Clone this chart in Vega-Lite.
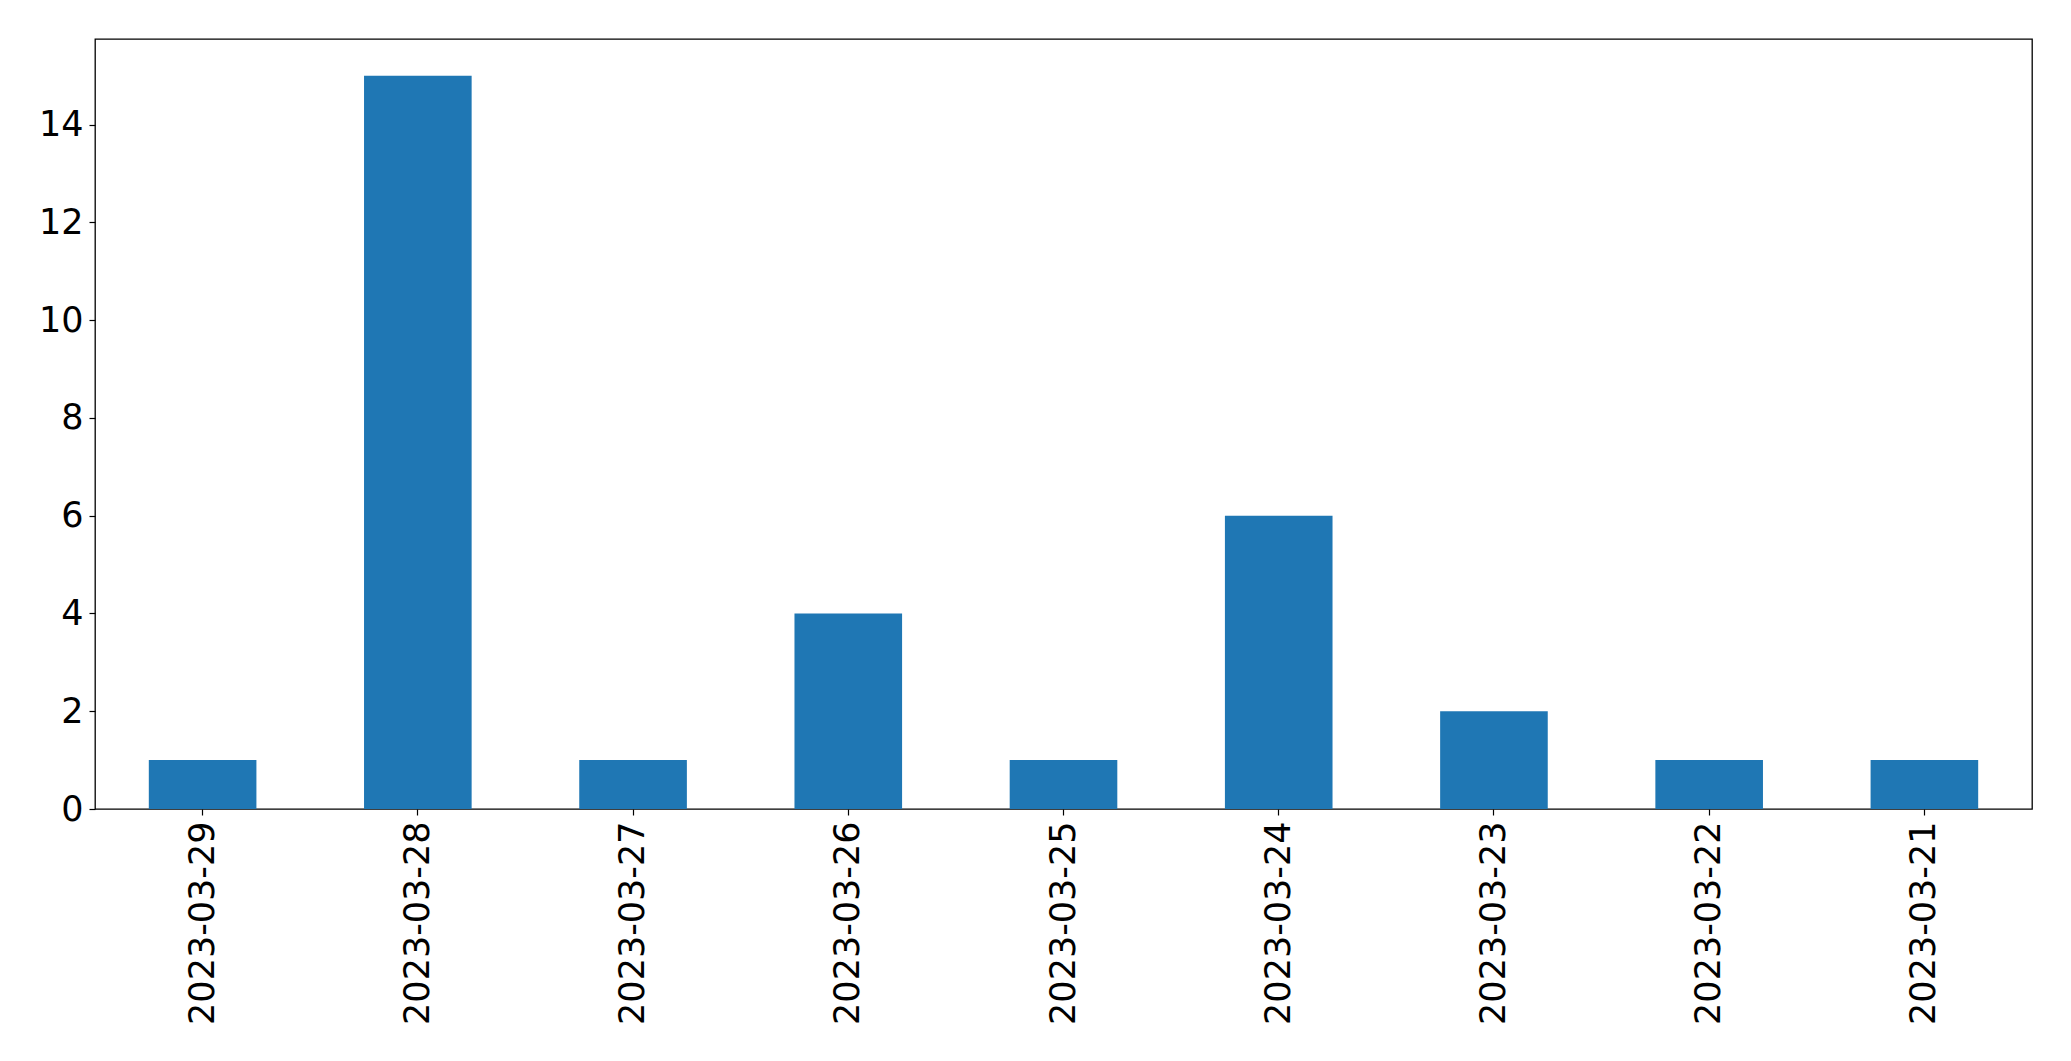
{
  "$schema": "https://vega.github.io/schema/vega-lite/v6.json",
  "autosize": {"type": "none"},
  "padding": {"left": 95, "top": 39, "right": 39, "bottom": 252},
  "width": 1937,
  "height": 770,
  "background": "white",
  "data": {"values": [
    {"date": "2023-03-29", "count": 1},
    {"date": "2023-03-28", "count": 15},
    {"date": "2023-03-27", "count": 1},
    {"date": "2023-03-26", "count": 4},
    {"date": "2023-03-25", "count": 1},
    {"date": "2023-03-24", "count": 6},
    {"date": "2023-03-23", "count": 2},
    {"date": "2023-03-22", "count": 1},
    {"date": "2023-03-21", "count": 1}
  ]},
  "config": {
    "view": {"stroke": "black", "strokeWidth": 1.3},
    "axis": {"labelFont": "DejaVu Sans", "labelFontSize": 35, "labelColor": "black", "tickColor": "black", "tickSize": 6, "tickWidth": 1.2, "domain": false, "grid": false, "title": null, "labelOverlap": false, "labelLimit": 0}
  },
  "mark": {"type": "bar", "color": "#1f77b4"},
  "encoding": {
    "x": {"field": "date", "type": "ordinal", "sort": null,
      "scale": {"paddingInner": 0.5, "paddingOuter": 0.25},
      "axis": {"labelAngle": -90, "labelPadding": 6}},
    "y": {"field": "count", "type": "quantitative",
      "scale": {"domain": [0, 15.75], "nice": false, "zero": true},
      "axis": {"values": [0, 2, 4, 6, 8, 10, 12, 14], "labelPadding": 6}}
  }
}
